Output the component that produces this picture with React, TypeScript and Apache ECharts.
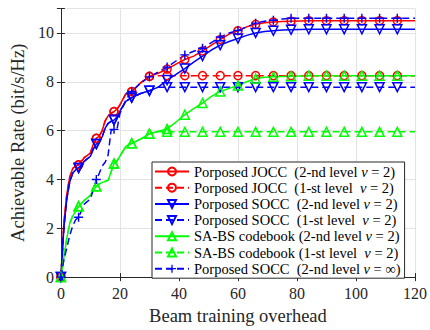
import React, { useEffect, useRef } from "react";
import * as echarts from "echarts";

// Beam training overhead (x) sample points
const X = [0, 1, 2, 3, 4, 5, 6, 8, 10, 11, 12, 13, 14, 15, 16, 17, 18, 19, 20, 22, 24, 27, 30, 33, 36, 39, 42, 45, 48, 51, 54, 57, 60, 63, 66, 69, 72, 75, 78, 84, 90, 96, 102, 108, 114, 120];

const JOCC_L2 = [0, 2.2, 3.4, 4.1, 4.45, 4.55, 4.6, 4.9, 5.08, 5.45, 5.68, 5.78, 6.0, 6.4, 6.6, 6.7, 6.78, 6.88, 7.05, 7.5, 7.6, 7.95, 8.22, 8.35, 8.52, 8.72, 8.91, 9.05, 9.26, 9.5, 9.73, 9.95, 10.09, 10.25, 10.35, 10.42, 10.45, 10.47, 10.48, 10.5, 10.5, 10.5, 10.5, 10.5, 10.5, 10.5];
const JOCC_L1 = [0, 2.2, 3.4, 4.1, 4.45, 4.55, 4.6, 4.9, 5.08, 5.45, 5.68, 5.78, 6.0, 6.4, 6.6, 6.7, 6.78, 6.88, 7.05, 7.5, 7.6, 7.95, 8.22, 8.25, 8.25, 8.25, 8.25, 8.25, 8.25, 8.25, 8.25, 8.25, 8.25, 8.25, 8.25, 8.25, 8.25, 8.25, 8.25, 8.25, 8.25, 8.25, 8.25, 8.25, 8.25, 8.25];
const SOCC_L2 = [0, 2.0, 3.2, 3.9, 4.25, 4.4, 4.47, 4.75, 4.95, 5.25, 5.45, 5.58, 5.75, 6.1, 6.3, 6.38, 6.43, 6.55, 6.8, 7.2, 7.35, 7.52, 7.63, 7.78, 8.07, 8.3, 8.54, 8.8, 9.05, 9.3, 9.5, 9.65, 9.77, 9.9, 10.0, 10.06, 10.09, 10.12, 10.13, 10.15, 10.15, 10.15, 10.15, 10.15, 10.15, 10.15];
const SOCC_L1 = [0, 2.0, 3.2, 3.9, 4.25, 4.4, 4.47, 4.75, 4.95, 5.25, 5.45, 5.58, 5.75, 6.1, 6.3, 6.38, 6.43, 6.55, 6.8, 7.2, 7.35, 7.52, 7.63, 7.78, 7.78, 7.78, 7.78, 7.78, 7.78, 7.78, 7.78, 7.78, 7.78, 7.78, 7.78, 7.78, 7.78, 7.78, 7.78, 7.78, 7.78, 7.78, 7.78, 7.78, 7.78, 7.78];
const SABS_L2 = [0, 0.8, 1.6, 2.2, 2.5, 2.7, 2.9, 3.15, 3.35, 3.55, 3.72, 3.82, 3.88, 3.92, 3.96, 4.3, 4.65, 4.75, 4.95, 5.35, 5.48, 5.65, 5.87, 5.97, 6.07, 6.35, 6.65, 6.9, 7.13, 7.4, 7.6, 7.73, 7.85, 8.0, 8.13, 8.18, 8.2, 8.22, 8.23, 8.25, 8.25, 8.25, 8.25, 8.25, 8.25, 8.25];
const SABS_L1 = [0, 0.8, 1.6, 2.2, 2.5, 2.7, 2.9, 3.15, 3.35, 3.55, 3.72, 3.82, 3.88, 3.92, 3.96, 4.3, 4.65, 4.75, 4.95, 5.35, 5.48, 5.65, 5.87, 5.95, 5.95, 5.95, 5.95, 5.95, 5.95, 5.95, 5.95, 5.95, 5.95, 5.95, 5.95, 5.95, 5.95, 5.95, 5.95, 5.95, 5.95, 5.95, 5.95, 5.95, 5.95, 5.95];
const SOCC_INF = [0, 0.7, 1.2, 1.7, 2.1, 2.35, 2.45, 3.0, 3.2, 3.6, 4.0, 4.25, 4.55, 4.7, 5.0, 6.0, 6.05, 6.05, 6.7, 7.25, 7.6, 7.95, 8.2, 8.4, 8.6, 8.85, 9.1, 9.25, 9.37, 9.6, 9.83, 10.0, 10.1, 10.25, 10.4, 10.48, 10.52, 10.57, 10.6, 10.6, 10.6, 10.6, 10.6, 10.6, 10.6, 10.6];

const NAMES = [
  "Porposed JOCC  (2-nd level v = 2)",
  "Porposed JOCC  (1-st level  v = 2)",
  "Porposed SOCC  (2-nd level v = 2)",
  "Porposed SOCC  (1-st level  v = 2)",
  "SA-BS codebook (2-nd level v = 2)",
  "SA-BS codebook (1-st level  v = 2)",
  "Porposed SOCC  (2-nd level v = ∞)",
];

const X_TICKS = [0, 20, 40, 60, 80, 100, 120];
const Y_TICKS = [0, 2, 4, 6, 8, 10];

const RED = "#ff0000";
const BLUE = "#0000ff";
const GREEN = "#00ff00";
const PLUS = "path://M4.2,0H5.8V4.2H10V5.8H5.8V10H4.2V5.8H0V4.2H4.2Z";
const FONT = "'Liberation Serif', 'Times New Roman', serif";

function mkData(ys: number[]) {
  return X.map((x, i) => {
    const marked = x % 6 === 0 && x < 120;
    return marked ? { value: [x, ys[i]] } : { value: [x, ys[i]], symbol: "none" };
  });
}

function mkSeries(name: string, ys: number[], color: string, dashed: boolean, symbol: string, rotate: number, size: number, filled: boolean) {
  return {
    name,
    type: "line",
    data: mkData(ys),
    symbol,
    symbolSize: size,
    symbolRotate: rotate,
    showAllSymbol: true,
    smooth: false,
    lineStyle: { color, width: 1.5, type: dashed ? [7, 4] : "solid" },
    itemStyle: filled
      ? { color, borderWidth: 0 }
      : { color: "rgba(0,0,0,0)", borderColor: color, borderWidth: 1.5 },
    emphasis: { disabled: true },
    z: 2,
  };
}

export default function App() {
  const ref = useRef<HTMLDivElement>(null);
  useEffect(() => {
    if (!ref.current) return;
    const chart = echarts.init(ref.current, undefined, { renderer: "svg" });
    const axisColor = "#262626";
    const series = [
      mkSeries(NAMES[0], JOCC_L2, RED, false, "circle", 0, 8, false),
      mkSeries(NAMES[1], JOCC_L1, RED, true, "circle", 0, 8, false),
      mkSeries(NAMES[2], SOCC_L2, BLUE, false, "triangle", 180, 9, false),
      mkSeries(NAMES[3], SOCC_L1, BLUE, true, "triangle", 180, 9, false),
      mkSeries(NAMES[4], SABS_L2, GREEN, false, "triangle", 0, 9, false),
      mkSeries(NAMES[5], SABS_L1, GREEN, true, "triangle", 0, 9, false),
      mkSeries(NAMES[6], SOCC_INF, BLUE, true, PLUS, 0, 9, true),
    ];
    const baseX = {
      type: "value",
      min: X_TICKS[0],
      max: X_TICKS[X_TICKS.length - 1],
      interval: X_TICKS[1] - X_TICKS[0],
      axisLine: { show: true, lineStyle: { color: axisColor, width: 1 } },
      axisTick: { show: true, inside: true, length: 4, lineStyle: { color: axisColor } },
    };
    const baseY = {
      type: "value",
      min: Y_TICKS[0],
      max: 11,
      interval: Y_TICKS[1] - Y_TICKS[0],
      axisLine: { show: true, lineStyle: { color: axisColor, width: 1 } },
      axisTick: { show: true, inside: true, length: 4, lineStyle: { color: axisColor } },
    };
    chart.setOption({
      animation: false,
      backgroundColor: "#ffffff",
      grid: { left: 53, right: 14, top: 8.5, bottom: 41, containLabel: false },
      xAxis: [
        {
          ...baseX,
          position: "bottom",
          name: "Beam training overhead",
          nameLocation: "middle",
          nameGap: 21,
          nameTextStyle: { fontFamily: FONT, fontSize: 18.5, color: axisColor },
          axisLabel: { show: true, margin: 8, fontFamily: FONT, fontSize: 16, color: axisColor },
          splitLine: { show: true, lineStyle: { color: "#e3e3e3", width: 1 } },
        },
        {
          ...baseX,
          position: "top",
          axisLabel: { show: false },
          splitLine: { show: false },
        },
      ],
      yAxis: [
        {
          ...baseY,
          position: "left",
          name: "Achievable Rate (bit/s/Hz)",
          nameLocation: "middle",
          nameGap: 26,
          nameTextStyle: { fontFamily: FONT, fontSize: 18.5, color: axisColor },
          axisLabel: {
            show: true,
            margin: 7,
            fontFamily: FONT,
            fontSize: 16,
            color: axisColor,
            formatter: (v: number) => (Y_TICKS.indexOf(v) >= 0 ? String(v) : ""),
          },
          splitLine: { show: true, lineStyle: { color: "#e3e3e3", width: 1 } },
        },
        {
          ...baseY,
          position: "right",
          axisLabel: { show: false },
          splitLine: { show: false },
        },
      ],
      legend: {
        show: true,
        orient: "vertical",
        left: 152,
        top: 162,
        itemWidth: 34,
        itemHeight: 10,
        itemGap: 0.2,
        padding: [1.5, 4, 1.5, 2],
        backgroundColor: "#ffffff",
        borderColor: axisColor,
        borderWidth: 1,
        borderRadius: 0,
        data: NAMES,
        formatter: (name: string) => {
          const k = name.lastIndexOf("v");
          return `{t|${name.slice(0, k)}}{i|v}{t|${name.slice(k + 1)}}`;
        },
        textStyle: {
          fontFamily: FONT,
          fontSize: 14.5,
          color: "#000",
          lineHeight: 16,
          rich: {
            t: { fontFamily: FONT, fontSize: 14.5, color: "#000", lineHeight: 16 },
            i: { fontFamily: FONT, fontSize: 14.5, color: "#000", fontStyle: "italic", lineHeight: 16 },
          },
        },
        selectedMode: false,
      },
      series,
    });
    return () => chart.dispose();
  }, []);
  return <div ref={ref} style={{ position: "absolute", left: 0, top: 0, width: 430, height: 330 }} />;
}
